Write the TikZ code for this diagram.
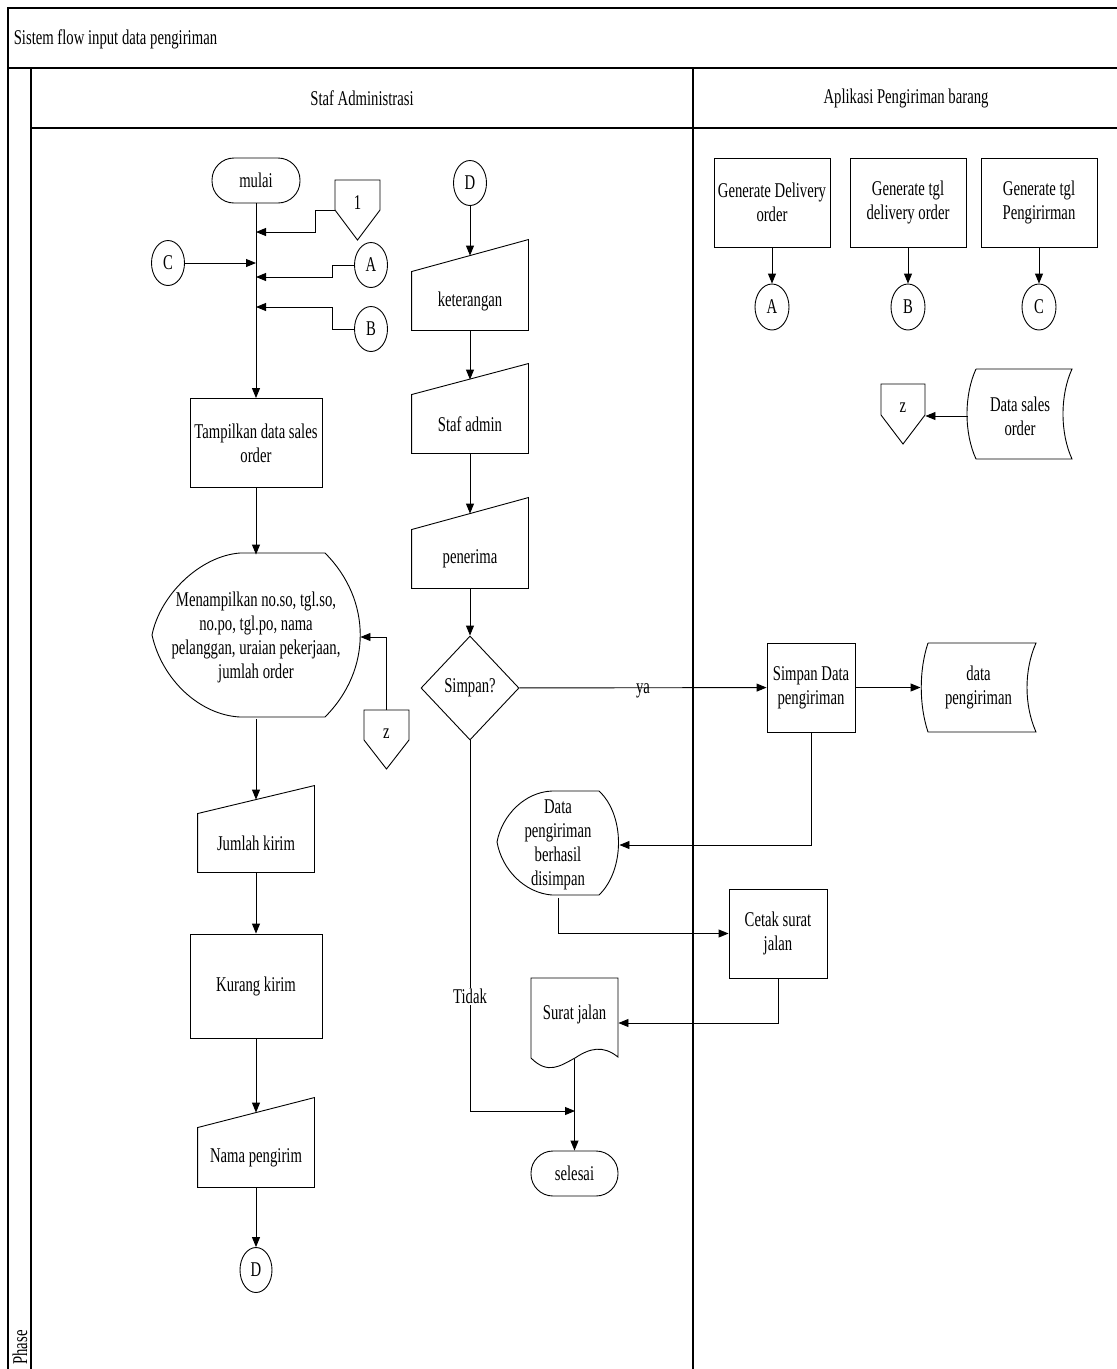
\documentclass[tikz,border=0pt]{standalone}
\usepackage{fontspec}
\setmainfont{Liberation Serif}[FakeStretch=0.70]
\usetikzlibrary{arrows.meta, positioning, shapes.geometric}

\begin{document}
\begin{tikzpicture}[x=1pt, y=-1pt, line width=0.9pt, >={Triangle[length=10pt, width=8pt]}, font=\fontsize{21}{24}\selectfont]
\tikzstyle{proc}=[rectangle, draw, align=center, inner sep=1pt]
\tikzstyle{term}=[rectangle, draw, rounded corners=22pt, minimum width=88pt, minimum height=45pt]
\tikzstyle{conn}=[ellipse, draw, minimum width=33pt, minimum height=45pt, inner sep=0pt]
\tikzstyle{ghost}=[rectangle, align=center, inner sep=0pt]
\tikzstyle{manual}=[ghost, minimum width=116pt, minimum height=58pt]
\tikzstyle{lane}=[line width=1.2pt]

\useasboundingbox (0,0) rectangle (1117,1369);

% frame
\draw[lane] (1130,8) -- (8,8) -- (8,1380);
\draw[lane] (8,68) -- (1130,68);
\draw[lane] (31,68) -- (31,1380);
\draw[lane] (31,128) -- (1130,128);
\draw[lane] (693,68) -- (693,1380);
\node[anchor=west] (judul) at (10,39) {Sistem flow input data pengiriman};
\node (staf) at (362,98) {Staf Administrasi};
\node (apl) at (906,98) {Aplikasi Pengiriman barang};
\node[rotate=90, anchor=west, inner sep=1pt] (phase) at (20,1366) {Phase};

% staf administrasi
\node[term] (mulai) at (256,180.5) {mulai};
\node[ghost, minimum width=45pt, minimum height=46pt] (satu) at (357.5,203) {1};
\draw (335,180) -- (380,180) -- (380,210) -- (357.5,240) -- (335,210) -- cycle;
\coordinate (satuw) at (335,210);
\node[conn] (cc) at (168,263) {C};
\node[conn] (ca) at (371,265) {A};
\node[conn] (cb) at (371,329) {B};
\coordinate (j1) at (256,232);
\coordinate (j2) at (256,263);
\coordinate (j3) at (256,277);
\coordinate (j4) at (256,307);
\node[proc, minimum width=132pt, minimum height=89pt] (tampil) at (256,443) {Tampilkan data sales\\order};
\node[ghost, minimum width=208pt, minimum height=164pt] (layar) at (256,637) {Menampilkan no.so, tgl.so,\\no.po, tgl.po, nama\\pelanggan, uraian pekerjaan,\\jumlah order};
\draw (240,553) -- (325,553) .. controls (372,600) and (372,670) .. (325,717) -- (240,717) .. controls (200,715) and (162,680) .. (152,635) .. controls (160,595) and (200,556) .. (240,553);
\node[ghost, minimum width=45pt, minimum height=48pt] (zk) at (386.5,734) {z};
\draw (364,710) -- (409,710) -- (409,740) -- (386.5,769) -- (364,740) -- cycle;
\node[manual] (jumlah) at (256,843) {Jumlah kirim};
\draw (jumlah.north west) -- ([yshift=28pt]jumlah.north east) -- (jumlah.south east) -- (jumlah.south west) -- cycle;
\node[proc, minimum width=132pt, minimum height=104pt] (kurang) at (256,986) {Kurang kirim};
\node[manual, minimum height=59pt] (nama) at (256,1157.5) {Nama pengirim};
\draw (nama.north west) -- ([yshift=30pt]nama.north east) -- (nama.south east) -- (nama.south west) -- cycle;
\node[conn, minimum width=32pt] (cd) at (256,1270) {D};

\node[conn] (cdt) at (470,183) {D};
\node[manual] (ket) at (470,301) {keterangan};
\draw (ket.north west) -- ([yshift=32pt]ket.north east) -- (ket.south east) -- (ket.south west) -- cycle;
\node[manual] (adm) at (470,424) {Staf admin};
\draw (adm.north west) -- ([yshift=31pt]adm.north east) -- (adm.south east) -- (adm.south west) -- cycle;
\node[manual] (trm) at (470,559) {penerima};
\draw (trm.north west) -- ([yshift=32pt]trm.north east) -- (trm.south east) -- (trm.south west) -- cycle;
\node[diamond, draw, minimum width=98pt, minimum height=104pt, inner sep=0pt] (tanya) at (470,688) {Simpan?};
\node[ghost, minimum width=122pt, minimum height=105pt] (berhasil) at (558,845) {Data\\pengiriman\\berhasil\\disimpan};
\draw (552,791) -- (599,791) .. controls (625,815) and (625,870) .. (599,895) -- (552,895) .. controls (525,893) and (502,870) .. (497,842) .. controls (502,815) and (525,792) .. (552,791);
\node[ghost, minimum width=87pt, minimum height=72pt] (surat) at (574.5,1014) {Surat jalan};
\draw (531,1058) -- (531,978) -- (618,978) -- (618,1057) .. controls (603,1045) and (590,1048) .. (575,1058) .. controls (560,1066) and (548,1075) .. (531,1058);
\coordinate (selj) at (575,1111);
\node[term, minimum width=87pt] (selesai) at (574.5,1173.5) {selesai};

% aplikasi pengiriman barang
\node[proc, minimum width=116pt, minimum height=89pt] (gdo) at (772,202.5) {Generate Delivery\\order};
\node[proc, minimum width=116pt, minimum height=89pt] (gtd) at (908,202.5) {Generate tgl\\delivery order};
\node[proc, minimum width=116pt, minimum height=89pt] (gtp) at (1039,202.5) {Generate tgl\\Pengirirman};
\node[conn, minimum width=34pt, minimum height=46pt] (ra) at (772,307) {A};
\node[conn, minimum width=34pt, minimum height=46pt] (rb) at (908,307) {B};
\node[conn, minimum width=34pt, minimum height=46pt] (rc) at (1039,307) {C};
\node[ghost, minimum width=104pt, minimum height=90pt] (dso) at (1020,416) {Data sales\\order};
\draw (976,369) -- (1072,369) .. controls (1060,395) and (1060,433) .. (1072,459) -- (976,459) .. controls (964,433) and (964,395) .. (976,369);
\node[ghost, minimum width=44pt, minimum height=48pt] (zr) at (903,408) {z};
\draw (881,384) -- (925,384) -- (925,415) -- (903,444) -- (881,415) -- cycle;
\node[proc, minimum width=88pt, minimum height=89pt] (sdp) at (811,687.5) {Simpan Data\\pengiriman};
\node[ghost, minimum width=115pt, minimum height=89pt] (dp) at (978.5,687.5) {data\\pengiriman};
\draw (928,643) -- (1036,643) .. controls (1024,670) and (1024,705) .. (1036,732) -- (928,732) .. controls (919,705) and (919,670) .. (928,643);
\node[proc, minimum width=98pt, minimum height=89pt] (cetak) at (778,933.5) {Cetak surat\\jalan};

\draw[->] (mulai) -- (tampil);
\draw[->] (satuw) -- ++(-20,0) |- (j1);
\draw[->] (cc) -- (j2);
\draw[->] (ca.west) -- ++(-22,0) |- (j3);
\draw[->] (cb.west) -- ++(-22,0) |- (j4);
\draw[->] (tampil) -- (layar);
\draw[->] (zk.north) |- (layar.east);
\draw[->] (layar) -- ([yshift=14pt]jumlah.north);
\draw[->] (jumlah) -- (kurang);
\draw[->] (kurang) -- ([yshift=15pt]nama.north);
\draw[->] (nama) -- (cd);
\draw[->] (cdt) -- ([yshift=16pt]ket.north);
\draw[->] (ket) -- ([yshift=15pt]adm.north);
\draw[->] (adm) -- ([yshift=16pt]trm.north);
\draw[->] (trm) -- (tanya);
\draw[->] (tanya) -- node[yshift=-3pt, inner sep=0pt] {ya} (sdp);
\draw[->] (tanya) |- node[pos=0.345, fill=white, inner sep=1pt] {Tidak} (selj);
\draw[->] (sdp) -- (dp);
\draw[->] (sdp) |- (berhasil.east);
\draw[->] (berhasil.south) |- (cetak);
\draw[->] (cetak.south) |- ([yshift=-9pt]surat.east);
\draw[->] ([yshift=-9pt]surat.south) -- (selesai);
\draw[->] (gdo) -- (ra);
\draw[->] (gtd) -- (rb);
\draw[->] (gtp) -- (rc);
\draw[->] (dso.west) -- (zr.east |- dso.west);
\end{tikzpicture}
\end{document}
